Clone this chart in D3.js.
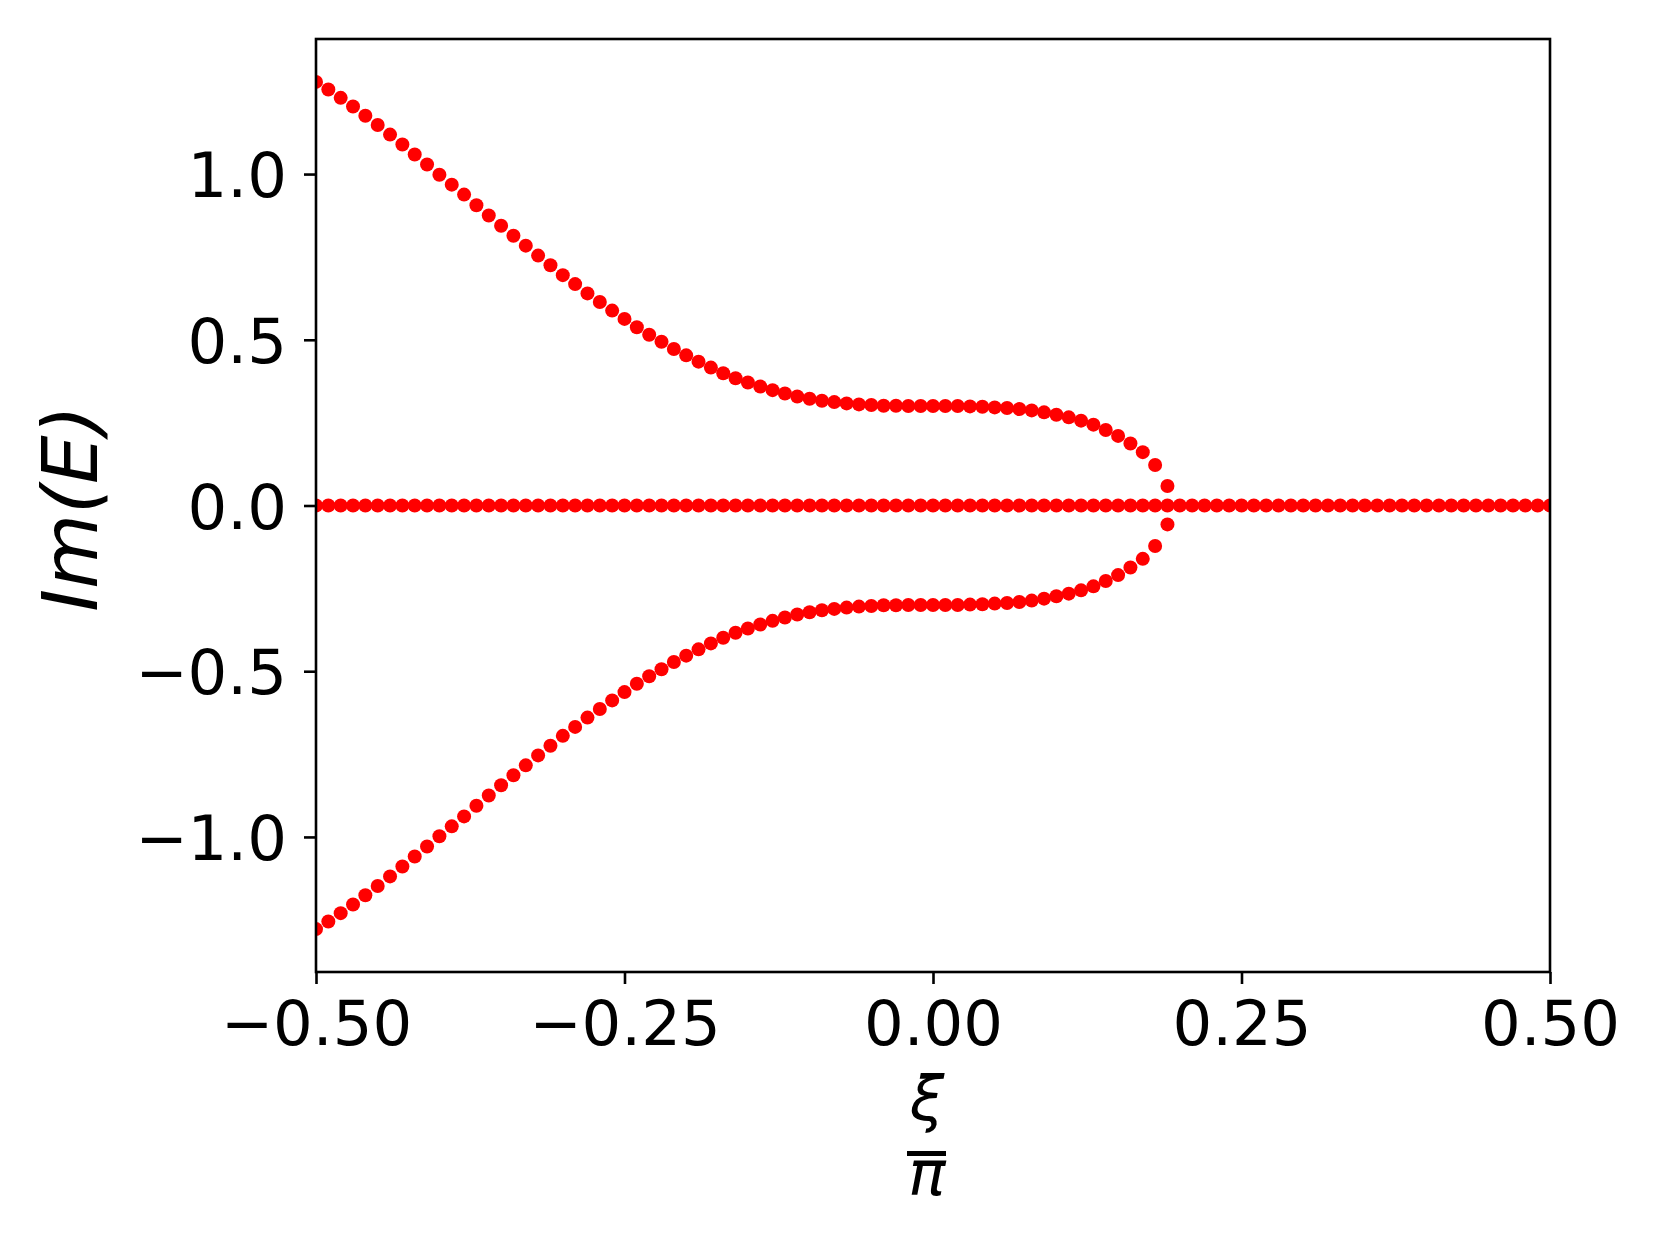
<!DOCTYPE html>
<html>
<head>
<meta charset="utf-8">
<script src="https://cdn.jsdelivr.net/npm/d3@7"></script>
<style>
  body { margin: 0; background: #ffffff; }
  svg { display: block; }
  .tick text { font-family: "DejaVu Sans", sans-serif; fill: #000000; }
</style>
</head>
<body>
<script>

// xi / pi sampling grid
var xiOverPi = [-0.50,-0.49,-0.48,-0.47,-0.46,-0.45,-0.44,-0.43,-0.42,-0.41,
  -0.40,-0.39,-0.38,-0.37,-0.36,-0.35,-0.34,-0.33,-0.32,-0.31,
  -0.30,-0.29,-0.28,-0.27,-0.26,-0.25,-0.24,-0.23,-0.22,-0.21,
  -0.20,-0.19,-0.18,-0.17,-0.16,-0.15,-0.14,-0.13,-0.12,-0.11,
  -0.10,-0.09,-0.08,-0.07,-0.06,-0.05,-0.04,-0.03,-0.02,-0.01,
  0.00,0.01,0.02,0.03,0.04,0.05,0.06,0.07,0.08,0.09,
  0.10,0.11,0.12,0.13,0.14,0.15,0.16,0.17,0.18,0.19,
  0.20,0.21,0.22,0.23,0.24,0.25,0.26,0.27,0.28,0.29,
  0.30,0.31,0.32,0.33,0.34,0.35,0.36,0.37,0.38,0.39,
  0.40,0.41,0.42,0.43,0.44,0.45,0.46,0.47,0.48,0.49,0.50];

// upper branch Im(E), first 70 grid points
var imUpper = [1.278,1.255,1.230,1.204,1.176,1.148,1.119,1.089,1.059,1.029,
  0.998,0.968,0.938,0.906,0.875,0.844,0.814,0.784,0.754,0.725,
  0.695,0.668,0.640,0.614,0.588,0.563,0.538,0.515,0.494,0.472,
  0.453,0.434,0.416,0.399,0.384,0.371,0.359,0.348,0.338,0.329,
  0.322,0.316,0.312,0.308,0.305,0.303,0.301,0.301,0.300,0.300,
  0.300,0.300,0.300,0.299,0.298,0.296,0.294,0.291,0.287,0.281,
  0.274,0.266,0.256,0.244,0.228,0.210,0.187,0.161,0.122,0.059];

// lower branch Im(E), first 70 grid points
var imLower = [-1.278,-1.255,-1.230,-1.204,-1.176,-1.148,-1.119,-1.089,-1.059,-1.029,
  -0.998,-0.968,-0.938,-0.906,-0.875,-0.844,-0.814,-0.784,-0.754,-0.725,
  -0.695,-0.668,-0.640,-0.614,-0.588,-0.563,-0.538,-0.515,-0.494,-0.472,
  -0.453,-0.434,-0.416,-0.399,-0.384,-0.371,-0.359,-0.348,-0.338,-0.329,
  -0.322,-0.316,-0.312,-0.308,-0.305,-0.303,-0.301,-0.301,-0.300,-0.300,
  -0.300,-0.300,-0.300,-0.299,-0.298,-0.296,-0.294,-0.291,-0.287,-0.281,
  -0.274,-0.266,-0.256,-0.244,-0.228,-0.210,-0.187,-0.161,-0.122,-0.057];

// real eigenvalues: Im(E) = 0 at every grid point
var imZero = [0,0,0,0,0,0,0,0,0,0, 0,0,0,0,0,0,0,0,0,0,
  0,0,0,0,0,0,0,0,0,0, 0,0,0,0,0,0,0,0,0,0,
  0,0,0,0,0,0,0,0,0,0, 0,0,0,0,0,0,0,0,0,0,
  0,0,0,0,0,0,0,0,0,0, 0,0,0,0,0,0,0,0,0,0,
  0,0,0,0,0,0,0,0,0,0, 0,0,0,0,0,0,0,0,0,0, 0];

// ticks
var xTicks = [-0.5, -0.25, 0, 0.25, 0.5];
var xTickLabels = ["\u22120.50", "\u22120.25", "0.00", "0.25", "0.50"];
var yTicks = [-1.0, -0.5, 0.0, 0.5, 1.0];
var yTickLabels = ["\u22121.0", "\u22120.5", "0.0", "0.5", "1.0"];

// svg size and plot area (no "top" name: window.top is taken)
var w = 1660;
var h = 1245;
var plotLeft = 316;
var plotRight = 1550;
var plotTop = 39;
var plotBottom = 972;

var svg = d3.select("body")
  .append("svg")
  .attr("width", w)
  .attr("height", h);

svg.append("rect")
  .attr("width", w)
  .attr("height", h)
  .attr("fill", "#ffffff");

// scales
var scaleX = d3.scaleLinear()
  .domain([-0.5, 0.5])
  .range([plotLeft, plotRight]);

var scaleY = d3.scaleLinear()
  .domain([-1.4075, 1.4075])
  .range([plotBottom, plotTop]);

// clip to the axes box
svg.append("clipPath")
  .attr("id", "plotClip")
  .append("rect")
  .attr("x", plotLeft)
  .attr("y", plotTop)
  .attr("width", plotRight - plotLeft)
  .attr("height", plotBottom - plotTop);

// building points list
var points = [];
for (var i = 0; i < xiOverPi.length; i++) {
  points.push([xiOverPi[i], imZero[i]]);
}
for (var i = 0; i < imUpper.length; i++) {
  points.push([xiOverPi[i], imUpper[i]]);
  points.push([xiOverPi[i], imLower[i]]);
}

svg.append("g")
  .attr("clip-path", "url(#plotClip)")
  .selectAll("circle")
  .data(points)
  .enter()
  .append("circle")
  .attr("cx", function(d) { return scaleX(d[0]); })
  .attr("cy", function(d) { return scaleY(d[1]); })
  .attr("r", 7)
  .attr("fill", "#ff0000");

// x axis
var xAxis = d3.axisBottom(scaleX)
  .tickValues(xTicks)
  .tickFormat(function(d, i) { return xTickLabels[i]; })
  .tickSize(12)
  .tickPadding(16.5);

var gx = svg.append("g")
  .attr("transform", "translate(0," + plotBottom + ")")
  .call(xAxis);
gx.select(".domain").remove();
gx.selectAll(".tick line").attr("stroke", "#000").attr("stroke-width", 2.6);
gx.selectAll(".tick text").style("font-size", "62.5px");

// y axis
var yAxis = d3.axisLeft(scaleY)
  .tickValues(yTicks)
  .tickFormat(function(d, i) { return yTickLabels[i]; })
  .tickSize(12)
  .tickPadding(17);

var gy = svg.append("g")
  .attr("transform", "translate(" + plotLeft + ",0)")
  .call(yAxis);
gy.select(".domain").remove();
gy.selectAll(".tick line").attr("stroke", "#000").attr("stroke-width", 2.6);
gy.selectAll(".tick text")
  .style("font-size", "62.5px")
  .attr("dy", "0.36em");

// axes frame on top
svg.append("rect")
  .attr("x", plotLeft)
  .attr("y", plotTop)
  .attr("width", plotRight - plotLeft)
  .attr("height", plotBottom - plotTop)
  .attr("fill", "none")
  .attr("stroke", "#000")
  .attr("stroke-width", 2.6);

// y axis label
svg.append("text")
  .attr("transform", "translate(97," + ((plotTop + plotBottom) / 2 + 3) + ") rotate(-90)")
  .style("text-anchor", "middle")
  .style("font-family", "DejaVu Sans")
  .style("font-style", "oblique")
  .style("font-size", "77px")
  .text("Im(E)");

// x axis label: xi over pi fraction
var fracX = 927;
svg.append("text")
  .attr("x", fracX)
  .attr("y", 1120)
  .style("text-anchor", "middle")
  .style("font-family", "DejaVu Sans")
  .style("font-style", "oblique")
  .style("font-size", "62px")
  .text("\u03be");

svg.append("line")
  .attr("x1", fracX - 20)
  .attr("x2", fracX + 19)
  .attr("y1", 1153.5)
  .attr("y2", 1153.5)
  .attr("stroke", "#000")
  .attr("stroke-width", 5);

svg.append("text")
  .attr("x", fracX)
  .attr("y", 1195)
  .style("text-anchor", "middle")
  .style("font-family", "DejaVu Sans")
  .style("font-style", "oblique")
  .style("font-size", "62px")
  .text("\u03c0");

</script>
</body>
</html>
